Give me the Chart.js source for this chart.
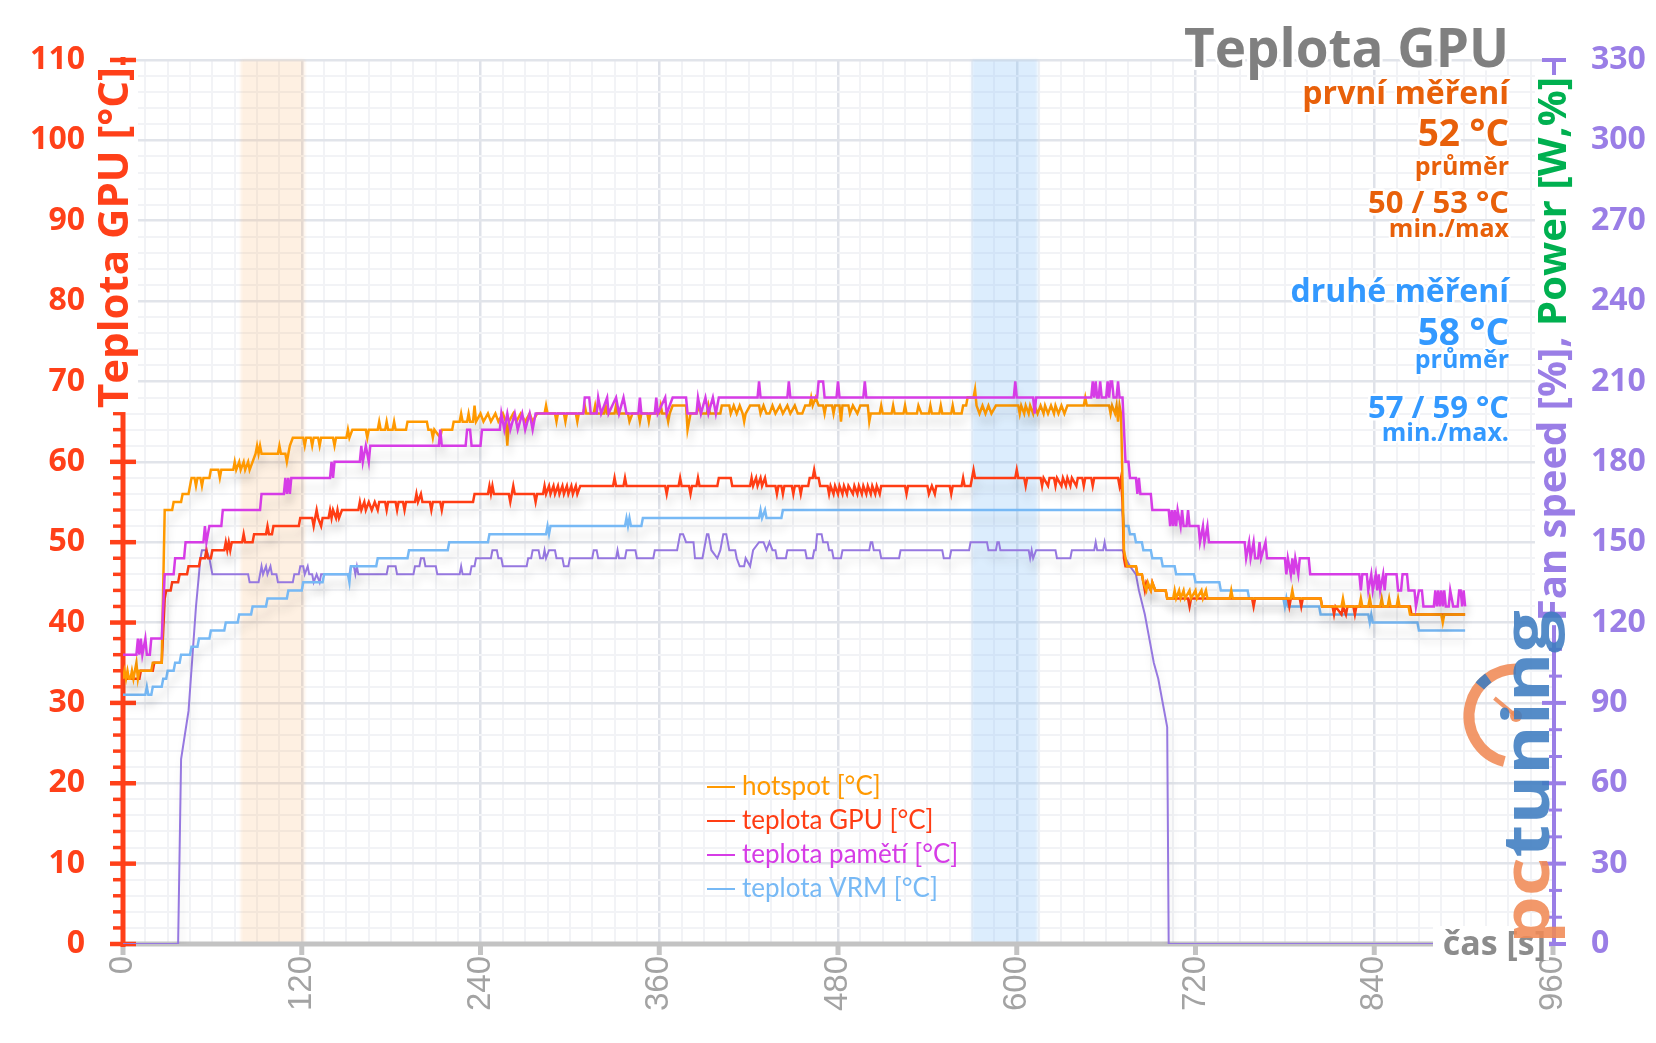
<!DOCTYPE html>
<html>
<head>
<meta charset="utf-8">
<script src="https://cdn.jsdelivr.net/npm/chart.js@4.4.1/dist/chart.umd.min.js"></script>
<style>
  html, body { margin: 0; padding: 0; background: #fff; }
  #wrap { width: 1656px; height: 1043px; position: relative; }
</style>
</head>
<body>
<div id="wrap"><canvas id="chart"></canvas></div>
<script>
// series: [time s, value]
const hotspot = [[0,33],[1,34],[2,33],[3,34],[4,33],[5,33],[6,34],[7,33],[8,34],[9,35],[10,33],[11,34],[19,34],[20,35],[26,35],[28,54],[33,54],[34,55],[39,55],[40,56],[44,56],[45,57],[46,58],[48,58],[49,57],[50,58],[52,58],[53,57],[54,58],[58,58],[59,59],[64,59],[65,58],[66,59],[74,59],[75,60],[76,59],[78,60],[79,59],[81,60],[82,59],[84,60],[85,59],[87,60],[89,61],[90,62],[91,61],[92,62],[93,61],[104,61],[105,62],[106,61],[109,61],[110,60],[111,61],[112,62],[114,63],[121,63],[122,62],[123,63],[126,63],[127,62],[128,63],[131,63],[132,62],[133,63],[141,63],[142,62],[143,63],[150,63],[151,64],[152,63],[154,64],[163,64],[164,63],[165,64],[171,64],[172,65],[173,64],[176,64],[177,65],[178,64],[181,64],[182,65],[183,64],[190,64],[191,65],[204,65],[205,64],[207,64],[208,63],[209,64],[213,63],[214,64],[221,64],[222,65],[226,65],[227,66],[228,65],[231,65],[232,66],[233,65],[235,65],[236,67],[237,65],[240,66],[242,65],[245,66],[247,65],[250,66],[252,65],[255,66],[257,65],[258,62],[259,65],[262,66],[264,65],[267,66],[270,65],[273,66],[275,65],[278,66],[283,66],[284,67],[285,66],[290,66],[291,65],[292,66],[296,66],[297,65],[298,66],[304,66],[305,65],[306,66],[309,66],[310,67],[311,66],[316,66],[317,67],[318,66],[323,66],[324,67],[325,66],[330,66],[331,67],[332,66],[339,66],[340,65],[342,66],[346,66],[347,65],[348,66],[352,66],[353,65],[354,66],[360,66],[361,67],[362,66],[365,66],[366,65],[367,66],[369,67],[378,67],[379,64],[381,66],[385,66],[387,67],[388,66],[392,66],[393,67],[394,66],[401,66],[402,67],[407,67],[408,66],[410,67],[412,66],[414,67],[416,66],[417,65],[418,66],[421,67],[427,67],[428,66],[430,67],[432,66],[434,66],[436,67],[438,66],[441,67],[443,66],[446,67],[448,66],[451,67],[453,66],[456,66],[458,67],[461,67],[462,68],[463,67],[465,68],[467,67],[470,67],[471,66],[472,67],[476,67],[477,66],[478,67],[481,67],[482,65],[483,67],[487,67],[488,66],[490,67],[493,66],[495,67],[500,67],[501,65],[502,66],[508,66],[509,67],[510,66],[516,66],[517,67],[518,66],[524,66],[525,67],[526,66],[533,66],[534,67],[536,66],[541,66],[542,67],[543,66],[548,66],[549,67],[550,66],[556,66],[557,67],[558,66],[563,66],[564,67],[566,67],[567,68],[571,68],[572,69],[573,67],[575,66],[577,67],[579,66],[581,67],[583,66],[586,67],[601,67],[602,66],[603,67],[605,66],[606,67],[608,66],[609,67],[611,66],[612,67],[614,66],[616,67],[618,66],[619,67],[621,66],[623,67],[625,66],[626,67],[628,66],[630,67],[632,66],[634,67],[645,67],[646,68],[647,67],[662,67],[663,66],[664,67],[666,66],[667,67],[668,65],[669,67],[670,66],[672,49],[673,48],[674,47],[680,47],[681,46],[684,46],[685,45],[687,44],[688,45],[690,44],[691,45],[693,44],[700,44],[701,43],[705,43],[706,44],[707,43],[709,44],[710,43],[712,44],[713,43],[716,44],[717,43],[720,44],[721,43],[724,44],[725,43],[727,44],[728,43],[743,43],[744,44],[745,43],[784,43],[785,44],[786,43],[804,43],[805,42],[818,42],[819,43],[820,42],[830,42],[831,43],[832,42],[836,42],[837,43],[838,42],[844,42],[845,43],[846,42],[849,42],[850,43],[851,42],[855,42],[856,43],[857,42],[863,42],[864,41],[885,41],[886,40],[887,41],[901,41]];

const gpu = [[0,33],[11,33],[12,34],[20,34],[21,35],[26,35],[28,43],[29,44],[32,44],[33,45],[37,45],[38,46],[43,46],[44,47],[51,47],[52,48],[55,48],[56,49],[57,48],[59,48],[60,49],[68,49],[69,50],[70,49],[71,50],[72,49],[73,50],[80,50],[81,51],[82,50],[87,50],[88,51],[96,51],[97,52],[98,51],[100,51],[101,52],[118,52],[119,53],[127,53],[128,52],[129,53],[130,54],[131,53],[133,52],[134,53],[138,53],[139,54],[140,53],[141,54],[143,53],[144,54],[145,53],[147,54],[158,54],[159,55],[160,54],[162,55],[163,54],[165,55],[167,54],[169,55],[171,54],[172,55],[176,55],[177,54],[178,55],[183,55],[184,54],[185,55],[188,55],[189,54],[190,55],[196,55],[197,56],[198,55],[200,56],[201,55],[206,55],[207,54],[208,55],[213,55],[214,54],[215,55],[235,55],[236,56],[245,56],[246,57],[247,56],[248,57],[249,56],[259,56],[260,55],[261,56],[262,57],[263,56],[276,56],[277,55],[278,56],[282,56],[283,57],[284,56],[286,57],[287,56],[289,57],[290,56],[292,57],[293,56],[295,57],[296,56],[298,57],[299,56],[301,57],[302,56],[304,57],[305,56],[307,57],[309,57],[329,57],[330,58],[331,57],[336,57],[337,58],[338,57],[364,57],[365,56],[366,57],[373,57],[374,58],[375,57],[380,57],[381,56],[382,57],[385,57],[386,58],[387,57],[399,57],[400,58],[408,58],[409,57],[421,57],[422,58],[423,57],[425,58],[426,57],[428,58],[429,57],[431,58],[432,57],[438,57],[439,56],[440,57],[442,57],[443,56],[444,57],[449,57],[450,56],[451,57],[454,57],[455,56],[456,57],[460,57],[461,58],[463,58],[464,59],[465,58],[467,58],[468,57],[473,57],[474,56],[475,57],[477,56],[478,57],[480,56],[481,57],[483,56],[484,57],[486,56],[487,57],[490,56],[491,57],[493,56],[494,57],[496,56],[497,57],[499,56],[500,57],[502,56],[503,57],[505,56],[506,57],[508,56],[509,57],[525,57],[526,56],[527,57],[540,57],[541,56],[543,57],[545,56],[546,57],[555,57],[556,56],[557,57],[563,57],[564,58],[565,57],[569,57],[570,58],[571,59],[572,58],[599,58],[600,59],[601,58],[605,58],[606,57],[607,58],[616,58],[617,57],[618,58],[621,57],[622,58],[625,58],[626,57],[627,58],[630,57],[631,58],[633,57],[634,58],[636,57],[637,58],[640,57],[641,58],[644,58],[645,57],[646,58],[650,58],[651,57],[652,58],[668,58],[669,57],[670,58],[671,55],[672,48],[673,47],[680,47],[681,46],[684,46],[685,45],[686,44],[687,45],[690,44],[691,45],[693,44],[700,44],[701,43],[715,43],[716,42],[717,43],[758,43],[759,42],[760,43],[782,43],[783,42],[784,43],[790,43],[791,42],[792,43],[804,43],[805,42],[812,42],[813,41],[814,42],[818,41],[819,42],[821,41],[822,42],[826,42],[827,41],[828,42],[864,42],[865,41],[901,41]];

const memory = [[0,36],[9,36],[10,38],[11,36],[12,38],[13,36],[15,38],[16,36],[18,36],[19,38],[26,38],[28,46],[34,46],[35,48],[41,48],[42,50],[54,50],[55,52],[56,50],[58,52],[66,52],[67,54],[92,54],[93,56],[108,56],[109,58],[110,56],[111,58],[112,56],[113,58],[139,58],[140,60],[141,58],[142,60],[159,60],[160,62],[161,60],[163,62],[165,60],[166,62],[212,62],[213,64],[214,62],[230,62],[231,64],[233,64],[234,62],[240,62],[241,64],[253,64],[254,66],[256,64],[258,66],[260,64],[263,66],[265,64],[268,66],[270,64],[273,66],[275,64],[277,66],[309,66],[310,68],[313,68],[314,66],[318,66],[319,68],[321,66],[325,68],[326,66],[331,68],[333,66],[336,68],[338,66],[346,66],[347,68],[348,66],[357,66],[358,68],[359,66],[364,68],[365,66],[369,68],[378,68],[379,66],[385,66],[386,68],[388,66],[391,68],[393,66],[396,68],[398,66],[400,68],[426,68],[427,70],[428,68],[446,68],[447,70],[448,68],[466,68],[467,70],[470,70],[471,68],[479,68],[480,70],[481,68],[497,68],[498,70],[499,68],[598,68],[599,70],[600,68],[611,68],[612,66],[613,68],[650,68],[651,70],[652,68],[653,70],[654,68],[655,68],[656,70],[657,68],[660,68],[661,70],[662,68],[663,70],[664,70],[665,68],[667,68],[668,70],[669,68],[671,68],[673,60],[675,60],[676,58],[680,58],[681,56],[682,58],[683,56],[690,56],[691,54],[702,54],[703,52],[704,54],[705,52],[706,54],[707,52],[708,54],[710,52],[711,54],[712,52],[714,52],[715,54],[716,52],[722,52],[723,50],[725,52],[726,50],[728,52],[729,50],[753,50],[754,48],[756,50],[757,48],[759,50],[760,48],[762,48],[763,50],[764,48],[767,50],[768,48],[780,48],[781,46],[782,48],[784,46],[785,48],[786,46],[787,48],[789,46],[790,48],[796,48],[797,46],[799,46],[830,46],[831,44],[832,46],[835,46],[836,44],[838,46],[839,44],[841,46],[842,44],[843,46],[844,44],[846,46],[847,44],[848,46],[855,46],[856,44],[858,44],[859,46],[862,46],[863,44],[867,44],[868,42],[870,44],[872,44],[873,42],[880,42],[881,44],[882,42],[883,44],[884,42],[885,44],[886,42],[887,44],[888,42],[890,42],[891,44],[893,42],[896,42],[897,44],[898,44],[899,42],[900,44],[901,42]];

const vrm = [[0,31],[15,31],[16,32],[17,31],[19,31],[20,32],[26,32],[27,33],[29,33],[30,34],[34,34],[35,35],[38,35],[39,36],[45,36],[46,37],[50,37],[51,38],[58,38],[59,39],[68,39],[69,40],[77,40],[78,41],[86,41],[87,42],[96,42],[97,43],[110,43],[111,44],[120,44],[121,45],[134,45],[135,46],[151,46],[152,45],[153,47],[170,47],[171,48],[191,48],[192,49],[218,49],[219,50],[245,50],[246,51],[284,51],[285,52],[286,51],[287,52],[337,52],[338,53],[339,52],[340,53],[341,52],[348,52],[349,53],[427,53],[428,54],[429,53],[431,54],[432,53],[442,53],[443,54],[671,54],[672,52],[675,52],[676,51],[679,51],[680,50],[684,50],[685,49],[690,49],[691,48],[697,48],[698,47],[706,47],[707,46],[719,46],[720,45],[736,45],[737,44],[755,44],[756,43],[779,43],[780,42],[781,43],[782,42],[803,42],[804,41],[836,41],[837,40],[838,41],[839,40],[869,40],[870,39],[901,39]];

const fan = [[0,0],[37,0],[39,23],[44,29],[49,42],[52,48],[53,49],[56,49],[58,48],[60,46],[84,46],[85,45],[91,45],[92,46],[93,47],[94,46],[96,47],[97,46],[99,47],[100,46],[103,46],[104,45],[114,45],[115,46],[118,46],[119,47],[121,47],[122,46],[124,47],[125,46],[127,46],[128,45],[130,46],[132,45],[133,46],[152,46],[153,47],[155,47],[156,46],[157,47],[158,46],[177,46],[178,47],[183,47],[184,46],[195,46],[196,47],[199,47],[200,48],[202,48],[203,47],[210,47],[211,46],[226,46],[227,47],[228,46],[233,46],[234,47],[236,47],[237,48],[247,48],[248,49],[251,49],[252,48],[254,48],[255,47],[271,47],[272,48],[274,48],[275,49],[279,49],[280,48],[282,48],[283,49],[284,48],[286,49],[290,49],[291,48],[295,48],[296,47],[299,47],[300,48],[315,48],[316,49],[318,49],[319,48],[331,48],[332,49],[333,48],[337,48],[338,49],[344,49],[345,48],[356,48],[357,49],[372,49],[374,51],[376,51],[378,50],[383,50],[384,48],[389,48],[390,49],[392,51],[393,51],[395,49],[399,48],[401,49],[403,51],[405,51],[407,49],[411,49],[412,48],[414,47],[417,47],[418,48],[421,47],[423,49],[427,50],[430,50],[432,49],[434,50],[436,49],[438,49],[439,48],[445,48],[446,49],[458,49],[459,48],[463,48],[464,49],[465,49],[466,51],[469,51],[470,50],[473,50],[474,49],[476,49],[477,48],[482,48],[483,49],[501,49],[502,50],[503,50],[504,49],[508,49],[509,48],[521,48],[522,49],[550,49],[551,48],[555,48],[556,49],[568,49],[569,50],[580,50],[581,49],[586,49],[587,50],[588,50],[589,49],[608,49],[609,48],[610,49],[611,48],[613,49],[626,49],[627,48],[636,48],[637,49],[652,49],[653,50],[654,49],[658,49],[659,50],[660,49],[671,49],[673,48],[676,47],[680,46],[682,44],[686,41],[688,39],[692,35],[695,33],[699,29],[701,27],[702,0],[901,0]];

// measurement windows (s)
const firstBand = [79, 122];
const secondBand = [570, 614];

// tick labels
const xLabels = [0, 120, 240, 360, 480, 600, 720, 840, 960];
const leftLabels = [0, 10, 20, 30, 40, 50, 60, 70, 80, 90, 100, 110];
const rightLabels = [0, 30, 60, 90, 120, 150, 180, 210, 240, 270, 300, 330];

const legendNames = ['hotspot [°C]', 'teplota GPU [°C]', 'teplota pamětí [°C]', 'teplota VRM [°C]'];

const RED = '#ff4019';
const PURPLE = '#9a7ee6';
const GRAY_AXIS = '#c3c3c3';
const colors = {
  hotspot: '#ff9900',
  gpu: '#ff3d14',
  memory: '#d63ce6',
  vrm: '#77b9f5',
  fan: '#9678e0'
};

Chart.defaults.font.family = 'Open Sans';

const toXY = arr => arr.map(p => ({ x: p[0], y: p[1] }));

function line(ctx, x1, y1, x2, y2) {
  ctx.beginPath();
  ctx.moveTo(x1, y1);
  ctx.lineTo(x2, y2);
  ctx.stroke();
}

function haloText(ctx, text, x, y, color, w) {
  ctx.lineJoin = 'round';
  ctx.strokeStyle = '#fff';
  ctx.lineWidth = w;
  ctx.strokeText(text, x, y);
  ctx.fillStyle = color;
  ctx.fillText(text, x, y);
}

const decor = {
  id: 'decor',
  beforeDatasetsDraw(chart) {
    const { ctx, chartArea: a, scales: { x, y, y2 } } = chart;
    ctx.save();

    // measurement windows
    ctx.filter = 'blur(1.5px)';
    let b1 = x.getPixelForValue(firstBand[0]), b2 = x.getPixelForValue(firstBand[1]);
    ctx.fillStyle = 'rgba(250, 180, 110, 0.2)';
    ctx.fillRect(b1, a.top, b2 - b1, a.bottom - a.top);
    b1 = x.getPixelForValue(secondBand[0]);
    b2 = x.getPixelForValue(secondBand[1]);
    ctx.fillStyle = 'rgba(140, 195, 250, 0.3)';
    ctx.fillRect(b1, a.top, b2 - b1, a.bottom - a.top);
    ctx.filter = 'none';

    // bottom axis
    ctx.strokeStyle = GRAY_AXIS;
    ctx.lineWidth = 5;
    line(ctx, a.left - 2, a.bottom, a.right, a.bottom);
    xLabels.forEach(v => {
      const px = x.getPixelForValue(v);
      line(ctx, px, a.bottom, px, a.bottom + 11);
    });

    // left axis
    ctx.strokeStyle = RED;
    ctx.lineWidth = 5;
    line(ctx, a.left, a.top - 3, a.left, a.bottom + 3);
    for (let v = 0; v <= 110; v += 2) {
      const py = y.getPixelForValue(v);
      if (v % 10 === 0) {
        ctx.lineWidth = 4.5;
        line(ctx, a.left - 13, py, a.left + 13, py);
      } else {
        ctx.lineWidth = 3.5;
        line(ctx, a.left - 10, py, a.left + 2, py);
      }
    }

    // right axis
    ctx.strokeStyle = PURPLE;
    ctx.lineWidth = 4;
    line(ctx, a.right + 1, a.top - 2, a.right + 1, a.bottom + 2);
    for (let v = 0; v <= 330; v += 10) {
      const py = y2.getPixelForValue(v);
      if (v % 30 === 0) {
        ctx.lineWidth = 4;
        line(ctx, a.right - 11, py, a.right + 13, py);
      } else {
        ctx.lineWidth = 3;
        line(ctx, a.right - 4, py, a.right + 9, py);
      }
    }
    ctx.restore();
  },
  beforeDatasetDraw(chart) {
    const ctx = chart.ctx;
    ctx.save();
    ctx.shadowColor = 'rgba(0, 0, 0, 0.13)';
    ctx.shadowBlur = 9;
    ctx.shadowOffsetX = 2;
    ctx.shadowOffsetY = 10;
  },
  afterDatasetDraw(chart) {
    chart.ctx.restore();
  },
  afterDatasetsDraw(chart) {
    const { ctx } = chart;
    ctx.save();
    ctx.textBaseline = 'alphabetic';

    // left axis title, on a white strip over the axis line
    ctx.save();
    ctx.translate(128, 67);
    ctx.rotate(-Math.PI / 2);
    ctx.font = 'bold 42px "Open Sans"';
    ctx.textAlign = 'right';
    let tw = ctx.measureText('Teplota GPU [°C]').width;
    ctx.fillStyle = '#fff';
    ctx.fillRect(-tw - 4, -31, tw + 6, 41);
    ctx.fillStyle = RED;
    ctx.fillText('Teplota GPU [°C]', 0, 0);
    ctx.restore();

    // right axis title
    ctx.save();
    ctx.translate(1566, 77);
    ctx.rotate(-Math.PI / 2);
    ctx.font = 'bold 40px "Open Sans"';
    ctx.textAlign = 'right';
    const powerTxt = 'Power [W,%]';
    const fanTxt = 'Fan speed [%], ';
    const pw0 = ctx.measureText(powerTxt).width;
    tw = pw0 + ctx.measureText(fanTxt).width;
    ctx.fillStyle = '#fff';
    ctx.fillRect(-tw - 4, -31, tw + 6, 41);
    ctx.fillStyle = '#00b050';
    ctx.fillText(powerTxt, 0, 0);
    ctx.fillStyle = PURPLE;
    ctx.fillText(fanTxt, -pw0, 0);
    ctx.restore();

    // title and measurement notes
    ctx.textAlign = 'right';
    const rx = 1509;
    const orange = '#e8600a';
    const blue = '#3399ff';
    ctx.font = 'bold 53px "Open Sans"';
    haloText(ctx, 'Teplota GPU', rx, 67, '#808080', 6);
    ctx.font = 'bold 32px "Open Sans"';
    haloText(ctx, 'první měření', rx, 104, orange, 5);
    ctx.font = 'bold 37px "Open Sans"';
    haloText(ctx, '52 °C', rx, 146, orange, 5);
    ctx.font = 'bold 25px "Open Sans"';
    haloText(ctx, 'průměr', rx, 175, orange, 4);
    ctx.font = 'bold 31px "Open Sans"';
    haloText(ctx, '50 / 53 °C', rx, 213, orange, 5);
    ctx.font = 'bold 25px "Open Sans"';
    haloText(ctx, 'min./max', rx, 237, orange, 4);
    ctx.font = 'bold 32px "Open Sans"';
    haloText(ctx, 'druhé měření', rx, 302, blue, 5);
    ctx.font = 'bold 37px "Open Sans"';
    haloText(ctx, '58 °C', rx, 345, blue, 5);
    ctx.font = 'bold 25px "Open Sans"';
    haloText(ctx, 'průměr', rx, 368, blue, 4);
    ctx.font = 'bold 31px "Open Sans"';
    haloText(ctx, '57 / 59 °C', rx, 418, blue, 5);
    ctx.font = 'bold 25px "Open Sans"';
    haloText(ctx, 'min./max.', rx, 441, blue, 4);

    // legend
    const legendColors = [colors.hotspot, colors.gpu, colors.memory, colors.vrm];
    ctx.textAlign = 'left';
    ctx.font = '26px Lato';
    legendNames.forEach((name, i) => {
      const by = 795 + i * 34;
      ctx.strokeStyle = legendColors[i];
      ctx.lineWidth = 2;
      line(ctx, 707, by - 8, 735, by - 8);
      ctx.fillStyle = legendColors[i];
      ctx.fillText(name, 742, by);
    });

    // x axis name
    ctx.fillStyle = '#fff';
    ctx.fillRect(1433, 926, 116, 34);
    ctx.font = 'bold 34px "Open Sans"';
    ctx.textAlign = 'right';
    ctx.fillStyle = '#8c8c8c';
    ctx.fillText('čas [s]', 1546, 955);

    // watermark logo
    ctx.globalAlpha = 0.88;
    const cx = 1516, cy = 716;
    ctx.lineCap = 'butt';
    ctx.strokeStyle = '#f08a55';
    ctx.lineWidth = 11;
    ctx.beginPath();
    ctx.arc(cx, cy, 47, Math.PI * 0.58, Math.PI * 1.5);
    ctx.stroke();
    ctx.strokeStyle = '#3d7cc0';
    ctx.beginPath();
    ctx.arc(cx, cy, 47, Math.PI * 1.22, Math.PI * 1.3);
    ctx.stroke();
    ctx.strokeStyle = '#f08a55';
    ctx.lineWidth = 4;
    line(ctx, cx, cy, cx + 28 * Math.cos(Math.PI * 1.22), cy + 28 * Math.sin(Math.PI * 1.22));
    ctx.fillStyle = '#f08a55';
    ctx.beginPath();
    ctx.arc(cx, cy, 6, 0, Math.PI * 2);
    ctx.fill();

    ctx.save();
    ctx.translate(1549, 944);
    ctx.rotate(-Math.PI / 2);
    ctx.scale(1.18, 1);
    ctx.font = 'bold 64px "Open Sans"';
    ctx.textAlign = 'left';
    ctx.fillStyle = '#f08a55';
    ctx.fillText('pc', 0, 0);
    const pw = ctx.measureText('pc').width;
    ctx.fillStyle = '#3d7cc0';
    ctx.fillText('tuning', pw, 0);
    ctx.restore();

    ctx.restore();
  }
};

const ds = (label, data, color, order, width) => ({
  label,
  data: toXY(data),
  borderColor: color,
  backgroundColor: color,
  borderWidth: width,
  pointRadius: 0,
  tension: 0,
  fill: false,
  order,
  yAxisID: 'y'
});

new Chart(document.getElementById('chart'), {
  type: 'line',
  data: {
    datasets: [
      ds('teplota pamětí [°C]', memory, colors.memory, 0, 2.5),
      ds('hotspot [°C]', hotspot, colors.hotspot, 1, 2.5),
      ds('teplota GPU [°C]', gpu, colors.gpu, 2, 2.5),
      ds('teplota VRM [°C]', vrm, colors.vrm, 3, 2.5),
      ds('Fan speed', fan, colors.fan, 4, 2)
    ]
  },
  options: {
    responsive: true,
    maintainAspectRatio: false,
    animation: false,
    events: [],
    layout: { padding: { top: 60, left: 0, right: 0, bottom: 0 } },
    plugins: {
      legend: { display: false },
      title: { display: false },
      tooltip: { enabled: false }
    },
    scales: {
      x: {
        type: 'linear',
        min: 0,
        max: 960,
        border: { display: false },
        grid: {
          drawTicks: false,
          color: c => (c.tick.value % 120 === 0 ? '#dfe2e9' : '#f2f3f6'),
          lineWidth: c => (c.tick.value % 120 === 0 ? 2.5 : 2)
        },
        ticks: {
          stepSize: 15,
          autoSkip: false,
          minRotation: 90,
          maxRotation: 90,
          padding: 12,
          color: '#a3a3a3',
          font: { family: 'Liberation Sans', size: 33 },
          callback: v => (xLabels.includes(v) ? String(v) : '')
        },
        afterFit: s => { s.height = 99; }
      },
      y: {
        position: 'left',
        min: 0,
        max: 110,
        border: { display: false },
        grid: {
          drawTicks: false,
          color: c => (c.tick.value % 10 === 0 ? '#e1e4ea' : '#f2f3f6'),
          lineWidth: c => (c.tick.value % 10 === 0 ? 2.5 : 2)
        },
        ticks: {
          stepSize: 2,
          autoSkip: false,
          padding: 38,
          color: RED,
          font: { size: 32, weight: 'bold' },
          callback: v => (leftLabels.includes(v) ? String(v) : '')
        },
        afterFit: s => { s.width = 123; }
      },
      y2: {
        position: 'right',
        min: 0,
        max: 330,
        border: { display: false },
        grid: { drawOnChartArea: false, drawTicks: false },
        ticks: {
          stepSize: 30,
          autoSkip: false,
          padding: 38,
          color: PURPLE,
          font: { size: 32, weight: 'bold' },
          callback: v => (rightLabels.includes(v) ? String(v) : '')
        },
        afterFit: s => { s.width = 103; }
      }
    }
  },
  plugins: [decor]
});
</script>
</body>
</html>
